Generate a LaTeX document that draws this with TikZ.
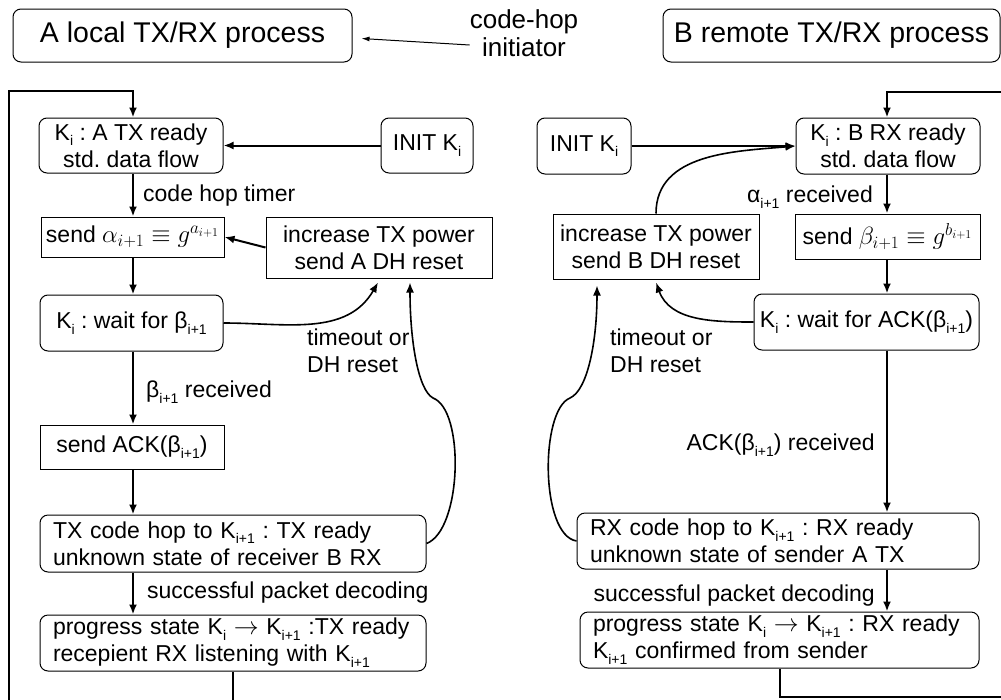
\documentclass[tikz,border=0pt]{standalone}
\usepackage{fontspec}
\setmainfont{Liberation Sans}
\usepackage{tikz}
\usetikzlibrary{calc, arrows.meta}

\frenchspacing
\newcommand{\sub}[1]{\raisebox{-0.25em}{\fontsize{14}{14}\selectfont #1}}
\newcommand{\Ks}[1]{K\sub{#1}}
\newcommand{\goesto}{${\rightarrow}$}

\begin{document}
\begin{tikzpicture}[x=1pt, y=1pt,
    every node/.style={font=\fontsize{23}{27}\selectfont},
    state/.style={draw, line width=1pt, rounded corners=8pt, align=center, inner sep=0pt},
    action/.style={draw, line width=1pt, align=center, inner sep=0pt},
    wide/.style={align=left, text width=#1, inner xsep=13pt},
    head/.style={draw, line width=1pt, rounded corners=8pt, inner sep=0pt, font=\fontsize{28.5}{34}\selectfont},
    lbl/.style={inner sep=0pt},
    flow/.style={line width=2pt, -{Latex[length=10pt,width=8pt]}},
    back/.style={line width=1.6pt, -{Latex[length=10pt,width=8pt]}}]
    \useasboundingbox (0,0) rectangle (1001,-699);
    \clip (0,0) rectangle (1001,-699);

    % Headers
    \node[head, minimum width=339pt, minimum height=53pt] (hdrA) at (182.5,-35.5) {A local TX/RX process};
    \node[head, minimum width=337pt, minimum height=53pt] (hdrB) at (831.5,-35.5) {B remote TX/RX process};
    \node[lbl, align=center, font=\fontsize{26}{28}\selectfont] (initiator) at (524,-33) {code-hop\\initiator};
    \draw[line width=1pt, -{Latex[length=8pt,width=5pt]}] ([yshift=-12pt]initiator.west) -- ([xshift=9pt,yshift=-3pt]hdrA.east);

    % A side (local)
    \node[state, minimum width=184pt, minimum height=55pt] (kA) at (131,-145.5) {\Ks{i} : A TX ready\\std. data flow};
    \node[state, minimum width=92pt, minimum height=55pt] (initA) at (427,-145.5) {INIT \Ks{i}};
    \node[action, minimum width=183pt, minimum height=40pt] (sendA) at (132.5,-237) {send $\alpha_{i+1}\equiv g^{a_{i+1}}$};
    \node[action, minimum width=226pt, minimum height=61pt] (incA) at (379,-247.5) {increase TX power\\send A DH reset};
    \node[state, minimum width=183pt, minimum height=56pt] (waitA) at (131.5,-323) {\Ks{i} : wait for β\sub{i+1}};
    \node[action, minimum width=184pt, minimum height=44pt] (ackA) at (132,-447) {send ACK(β\sub{i+1})};
    \node[state, wide=360pt, minimum height=57pt] (hopA) at (233,-543.5) {TX code hop to \Ks{i+1} : TX ready\\unknown state of receiver B RX};
    \node[state, wide=360pt, minimum height=56pt] (progA) at (233,-643) {progress state \Ks{i} \goesto{} \Ks{i+1} :TX ready\\recepient RX listening with \Ks{i+1}};

    \node[lbl, anchor=west] (timerA) at (143,-196) {code hop timer};
    \node[lbl, anchor=west] (recvA) at (146,-392) {β\sub{i+1} received};
    \node[lbl, anchor=west, align=left] (toA) at (307,-351) {timeout or\\DH reset};
    \node[lbl, anchor=west] (decA) at (147,-593) {successful packet decoding};

    \coordinate (loopA) at (133,-91);
    \draw[flow] (initA) -- (kA);
    \draw[flow] (kA.south -| loopA) -- (sendA.north -| loopA);
    \draw[flow] (sendA.south -| loopA) -- (waitA.north -| loopA);
    \draw[flow] (waitA.south -| loopA) -- (ackA.north -| loopA);
    \draw[flow] (ackA.south -| loopA) -- (hopA.north -| loopA);
    \draw[flow] (hopA.south -| loopA) -- (progA.north -| loopA);
    \draw[flow] (incA.west) -- (sendA.east);
    \draw[back] (waitA.east) to[out=0, in=-120] ([xshift=-1pt,yshift=-4pt]incA.south);
    \draw[back] (hopA.east) .. controls (462,-530) and (465,-410) .. (433,-398)
        .. controls (418,-390) and (410,-340) .. ([xshift=31pt,yshift=-4pt]incA.south);
    \draw[flow] (progA.south) |- (9,-701) |- (loopA) -- (kA.north -| loopA);

    % B side (remote)
    \node[state, minimum width=94pt, minimum height=56pt] (initB) at (584,-146) {INIT \Ks{i}};
    \node[state, minimum width=184pt, minimum height=56pt] (kB) at (888,-146) {\Ks{i} : B RX ready\\std. data flow};
    \node[action, minimum width=185pt, minimum height=45pt] (sendB) at (887.5,-236.5) {send $\beta_{i+1}\equiv g^{b_{i+1}}$};
    \node[action, minimum width=206pt, minimum height=65pt] (incB) at (656,-246.5) {increase TX power\\send B DH reset};
    \node[state, minimum width=225pt, minimum height=56pt] (waitB) at (866.5,-322) {\Ks{i} : wait for ACK(β\sub{i+1})};
    \node[state, wide=376pt, minimum height=56pt] (hopB) at (778,-541) {RX code hop to \Ks{i+1} : RX ready\\unknown state of sender A TX};
    \node[state, wide=373pt, minimum height=56pt] (progB) at (779.5,-640) {progress state \Ks{i} \goesto{} \Ks{i+1} : RX ready\\\Ks{i+1} confirmed from sender};

    \node[lbl, anchor=east] (recvB) at (873,-197) {α\sub{i+1} received};
    \node[lbl, anchor=west, align=left] (toB) at (610,-351) {timeout or\\DH reset};
    \node[lbl, anchor=east] (ackrecvB) at (875,-445) {ACK(β\sub{i+1}) received};
    \node[lbl, anchor=east] (decB) at (875,-596) {successful packet decoding};

    \coordinate (loopB) at (887,-92);
    \draw[flow] (initB) -- (kB);
    \draw[flow] (kB.south -| loopB) -- (sendB.north -| loopB);
    \draw[flow] (sendB.south -| loopB) -- (waitB.north -| loopB);
    \draw[flow] (waitB.south -| loopB) -- (hopB.north -| loopB);
    \draw[flow] (hopB.south -| loopB) -- (progB.north -| loopB);
    \draw[back] (waitB.west) to[out=180, in=-70] ([yshift=-3pt]incB.south);
    \draw[back] (incB.north) to[out=90, in=185] (kB.west);
    \draw[back] (hopB.west) .. controls (540,-535) and (540,-410) .. (570,-398)
        .. controls (588,-390) and (597,-340) .. ([xshift=-59pt,yshift=-6pt]incB.south);
    \draw[flow] (progB.south) |- (1003,-697) |- (loopB) -- (kB.north -| loopB);
\end{tikzpicture}
\end{document}
